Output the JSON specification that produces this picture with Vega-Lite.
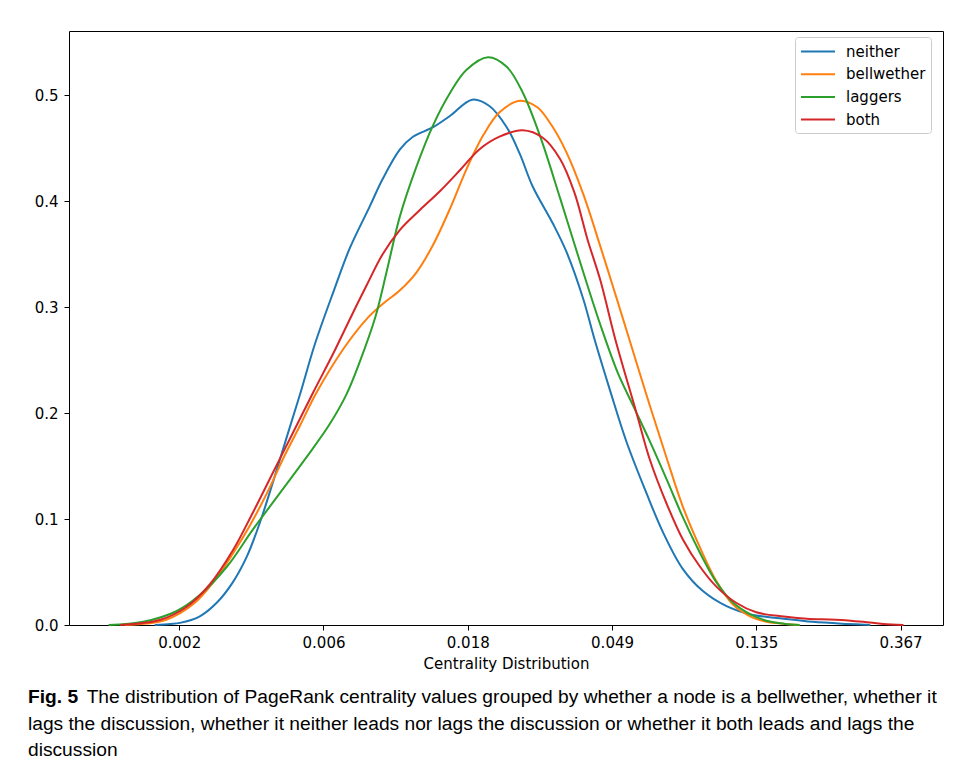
{
  "$schema": "https://vega.github.io/schema/vega-lite/v6.json",
  "width": 874,
  "height": 594,
  "autosize": "none",
  "padding": {"left": 69, "top": 31, "right": 12, "bottom": 146},
  "background": "white",
  "config": {
    "font": "DejaVu Sans",
    "view": {"stroke": "black", "strokeWidth": 1},
    "axis": {
      "grid": false,
      "domain": false,
      "tickColor": "black",
      "tickSize": 5,
      "tickWidth": 1,
      "labelColor": "black",
      "labelFont": "DejaVu Sans",
      "labelFontSize": 15,
      "labelPadding": 5,
      "titleColor": "black",
      "titleFont": "DejaVu Sans",
      "titleFontSize": 15,
      "titleFontWeight": "normal",
      "titlePadding": 6
    }
  },
  "data": {
    "values": [
      {"group": "neither", "ln_centrality": -6.17, "density": 0.000},
      {"group": "neither", "ln_centrality": -6.06, "density": 0.001},
      {"group": "neither", "ln_centrality": -5.995, "density": 0.002},
      {"group": "neither", "ln_centrality": -5.86, "density": 0.008},
      {"group": "neither", "ln_centrality": -5.74, "density": 0.021},
      {"group": "neither", "ln_centrality": -5.63, "density": 0.040},
      {"group": "neither", "ln_centrality": -5.53, "density": 0.065},
      {"group": "neither", "ln_centrality": -5.44, "density": 0.097},
      {"group": "neither", "ln_centrality": -5.35, "density": 0.135},
      {"group": "neither", "ln_centrality": -5.26, "density": 0.175},
      {"group": "neither", "ln_centrality": -5.16, "density": 0.219},
      {"group": "neither", "ln_centrality": -5.06, "density": 0.265},
      {"group": "neither", "ln_centrality": -4.93, "density": 0.315},
      {"group": "neither", "ln_centrality": -4.82, "density": 0.355},
      {"group": "neither", "ln_centrality": -4.68, "density": 0.395},
      {"group": "neither", "ln_centrality": -4.59, "density": 0.421},
      {"group": "neither", "ln_centrality": -4.47, "density": 0.449},
      {"group": "neither", "ln_centrality": -4.38, "density": 0.461},
      {"group": "neither", "ln_centrality": -4.24, "density": 0.470},
      {"group": "neither", "ln_centrality": -4.12, "density": 0.481},
      {"group": "neither", "ln_centrality": -3.97, "density": 0.496},
      {"group": "neither", "ln_centrality": -3.85, "density": 0.490},
      {"group": "neither", "ln_centrality": -3.73, "density": 0.470},
      {"group": "neither", "ln_centrality": -3.64, "density": 0.445},
      {"group": "neither", "ln_centrality": -3.55, "density": 0.414},
      {"group": "neither", "ln_centrality": -3.41, "density": 0.379},
      {"group": "neither", "ln_centrality": -3.315, "density": 0.352},
      {"group": "neither", "ln_centrality": -3.20, "density": 0.308},
      {"group": "neither", "ln_centrality": -3.12, "density": 0.269},
      {"group": "neither", "ln_centrality": -3.015, "density": 0.222},
      {"group": "neither", "ln_centrality": -2.90, "density": 0.173},
      {"group": "neither", "ln_centrality": -2.76, "density": 0.124},
      {"group": "neither", "ln_centrality": -2.645, "density": 0.087},
      {"group": "neither", "ln_centrality": -2.51, "density": 0.053},
      {"group": "neither", "ln_centrality": -2.37, "density": 0.032},
      {"group": "neither", "ln_centrality": -2.21, "density": 0.018},
      {"group": "neither", "ln_centrality": -2.04, "density": 0.010},
      {"group": "neither", "ln_centrality": -1.81, "density": 0.006},
      {"group": "neither", "ln_centrality": -1.61, "density": 0.003},
      {"group": "neither", "ln_centrality": -1.37, "density": 0.001},
      {"group": "neither", "ln_centrality": -1.21, "density": 0.000},

      {"group": "bellwether", "ln_centrality": -6.38, "density": 0.000},
      {"group": "bellwether", "ln_centrality": -6.09, "density": 0.005},
      {"group": "bellwether", "ln_centrality": -5.90, "density": 0.020},
      {"group": "bellwether", "ln_centrality": -5.76, "density": 0.041},
      {"group": "bellwether", "ln_centrality": -5.63, "density": 0.067},
      {"group": "bellwether", "ln_centrality": -5.51, "density": 0.094},
      {"group": "bellwether", "ln_centrality": -5.39, "density": 0.125},
      {"group": "bellwether", "ln_centrality": -5.28, "density": 0.157},
      {"group": "bellwether", "ln_centrality": -5.16, "density": 0.189},
      {"group": "bellwether", "ln_centrality": -5.05, "density": 0.219},
      {"group": "bellwether", "ln_centrality": -4.86, "density": 0.261},
      {"group": "bellwether", "ln_centrality": -4.70, "density": 0.289},
      {"group": "bellwether", "ln_centrality": -4.59, "density": 0.303},
      {"group": "bellwether", "ln_centrality": -4.47, "density": 0.316},
      {"group": "bellwether", "ln_centrality": -4.355, "density": 0.333},
      {"group": "bellwether", "ln_centrality": -4.24, "density": 0.359},
      {"group": "bellwether", "ln_centrality": -4.12, "density": 0.394},
      {"group": "bellwether", "ln_centrality": -4.01, "density": 0.430},
      {"group": "bellwether", "ln_centrality": -3.89, "density": 0.463},
      {"group": "bellwether", "ln_centrality": -3.78, "density": 0.484},
      {"group": "bellwether", "ln_centrality": -3.64, "density": 0.495},
      {"group": "bellwether", "ln_centrality": -3.52, "density": 0.489},
      {"group": "bellwether", "ln_centrality": -3.42, "density": 0.472},
      {"group": "bellwether", "ln_centrality": -3.315, "density": 0.446},
      {"group": "bellwether", "ln_centrality": -3.20, "density": 0.407},
      {"group": "bellwether", "ln_centrality": -3.08, "density": 0.357},
      {"group": "bellwether", "ln_centrality": -2.99, "density": 0.318},
      {"group": "bellwether", "ln_centrality": -2.89, "density": 0.274},
      {"group": "bellwether", "ln_centrality": -2.74, "density": 0.208},
      {"group": "bellwether", "ln_centrality": -2.62, "density": 0.157},
      {"group": "bellwether", "ln_centrality": -2.51, "density": 0.112},
      {"group": "bellwether", "ln_centrality": -2.39, "density": 0.073},
      {"group": "bellwether", "ln_centrality": -2.275, "density": 0.041},
      {"group": "bellwether", "ln_centrality": -2.16, "density": 0.019},
      {"group": "bellwether", "ln_centrality": -2.04, "density": 0.008},
      {"group": "bellwether", "ln_centrality": -1.93, "density": 0.003},
      {"group": "bellwether", "ln_centrality": -1.80, "density": 0.001},
      {"group": "bellwether", "ln_centrality": -1.70, "density": 0.000},

      {"group": "laggers", "ln_centrality": -6.49, "density": 0.000},
      {"group": "laggers", "ln_centrality": -6.25, "density": 0.003},
      {"group": "laggers", "ln_centrality": -6.02, "density": 0.013},
      {"group": "laggers", "ln_centrality": -5.86, "density": 0.028},
      {"group": "laggers", "ln_centrality": -5.67, "density": 0.055},
      {"group": "laggers", "ln_centrality": -5.49, "density": 0.090},
      {"group": "laggers", "ln_centrality": -5.30, "density": 0.125},
      {"group": "laggers", "ln_centrality": -5.12, "density": 0.158},
      {"group": "laggers", "ln_centrality": -4.96, "density": 0.189},
      {"group": "laggers", "ln_centrality": -4.84, "density": 0.218},
      {"group": "laggers", "ln_centrality": -4.75, "density": 0.248},
      {"group": "laggers", "ln_centrality": -4.64, "density": 0.291},
      {"group": "laggers", "ln_centrality": -4.56, "density": 0.335},
      {"group": "laggers", "ln_centrality": -4.47, "density": 0.386},
      {"group": "laggers", "ln_centrality": -4.355, "density": 0.433},
      {"group": "laggers", "ln_centrality": -4.24, "density": 0.472},
      {"group": "laggers", "ln_centrality": -4.12, "density": 0.503},
      {"group": "laggers", "ln_centrality": -4.01, "density": 0.524},
      {"group": "laggers", "ln_centrality": -3.86, "density": 0.536},
      {"group": "laggers", "ln_centrality": -3.73, "density": 0.527},
      {"group": "laggers", "ln_centrality": -3.62, "density": 0.503},
      {"group": "laggers", "ln_centrality": -3.50, "density": 0.462},
      {"group": "laggers", "ln_centrality": -3.36, "density": 0.403},
      {"group": "laggers", "ln_centrality": -3.22, "density": 0.342},
      {"group": "laggers", "ln_centrality": -3.08, "density": 0.283},
      {"group": "laggers", "ln_centrality": -2.96, "density": 0.238},
      {"group": "laggers", "ln_centrality": -2.85, "density": 0.206},
      {"group": "laggers", "ln_centrality": -2.74, "density": 0.174},
      {"group": "laggers", "ln_centrality": -2.62, "density": 0.137},
      {"group": "laggers", "ln_centrality": -2.51, "density": 0.102},
      {"group": "laggers", "ln_centrality": -2.39, "density": 0.068},
      {"group": "laggers", "ln_centrality": -2.275, "density": 0.040},
      {"group": "laggers", "ln_centrality": -2.16, "density": 0.021},
      {"group": "laggers", "ln_centrality": -2.04, "density": 0.010},
      {"group": "laggers", "ln_centrality": -1.93, "density": 0.004},
      {"group": "laggers", "ln_centrality": -1.80, "density": 0.001},
      {"group": "laggers", "ln_centrality": -1.70, "density": 0.000},

      {"group": "both", "ln_centrality": -6.41, "density": 0.000},
      {"group": "both", "ln_centrality": -6.13, "density": 0.005},
      {"group": "both", "ln_centrality": -5.95, "density": 0.017},
      {"group": "both", "ln_centrality": -5.79, "density": 0.038},
      {"group": "both", "ln_centrality": -5.63, "density": 0.070},
      {"group": "both", "ln_centrality": -5.49, "density": 0.106},
      {"group": "both", "ln_centrality": -5.35, "density": 0.144},
      {"group": "both", "ln_centrality": -5.21, "density": 0.182},
      {"group": "both", "ln_centrality": -5.07, "density": 0.220},
      {"group": "both", "ln_centrality": -4.93, "density": 0.257},
      {"group": "both", "ln_centrality": -4.82, "density": 0.288},
      {"group": "both", "ln_centrality": -4.70, "density": 0.321},
      {"group": "both", "ln_centrality": -4.59, "density": 0.350},
      {"group": "both", "ln_centrality": -4.47, "density": 0.373},
      {"group": "both", "ln_centrality": -4.33, "density": 0.392},
      {"group": "both", "ln_centrality": -4.19, "density": 0.410},
      {"group": "both", "ln_centrality": -4.05, "density": 0.430},
      {"group": "both", "ln_centrality": -3.92, "density": 0.449},
      {"group": "both", "ln_centrality": -3.78, "density": 0.461},
      {"group": "both", "ln_centrality": -3.62, "density": 0.467},
      {"group": "both", "ln_centrality": -3.48, "density": 0.460},
      {"group": "both", "ln_centrality": -3.36, "density": 0.440},
      {"group": "both", "ln_centrality": -3.26, "density": 0.408},
      {"group": "both", "ln_centrality": -3.17, "density": 0.364},
      {"group": "both", "ln_centrality": -3.08, "density": 0.325},
      {"group": "both", "ln_centrality": -2.98, "density": 0.271},
      {"group": "both", "ln_centrality": -2.83, "density": 0.200},
      {"group": "both", "ln_centrality": -2.74, "density": 0.157},
      {"group": "both", "ln_centrality": -2.62, "density": 0.114},
      {"group": "both", "ln_centrality": -2.51, "density": 0.081},
      {"group": "both", "ln_centrality": -2.39, "density": 0.055},
      {"group": "both", "ln_centrality": -2.275, "density": 0.036},
      {"group": "both", "ln_centrality": -2.14, "density": 0.021},
      {"group": "both", "ln_centrality": -2.00, "density": 0.012},
      {"group": "both", "ln_centrality": -1.81, "density": 0.008},
      {"group": "both", "ln_centrality": -1.65, "density": 0.006},
      {"group": "both", "ln_centrality": -1.45, "density": 0.005},
      {"group": "both", "ln_centrality": -1.26, "density": 0.003},
      {"group": "both", "ln_centrality": -1.12, "density": 0.001},
      {"group": "both", "ln_centrality": -0.98, "density": 0.000}
    ]
  },
  "mark": {"type": "line", "strokeWidth": 2, "interpolate": "catmull-rom"},
  "encoding": {
    "x": {
      "field": "ln_centrality",
      "type": "quantitative",
      "scale": {"domain": [-6.764, -0.706], "nice": false, "zero": false},
      "axis": {
        "title": "Centrality Distribution",
        "values": [-6, -5, -4, -3, -2, -1],
        "labelExpr": "format(floor(exp(datum.value) * 1000) / 1000, '.3f')"
      }
    },
    "y": {
      "field": "density",
      "type": "quantitative",
      "scale": {"domain": [0, 0.5608], "nice": false},
      "axis": {
        "title": null,
        "values": [0, 0.1, 0.2, 0.3, 0.4, 0.5],
        "format": ".1f",
        "labelPadding": 6
      }
    },
    "color": {
      "field": "group",
      "type": "nominal",
      "scale": {
        "domain": ["neither", "bellwether", "laggers", "both"],
        "range": ["#1f77b4", "#ff7f0e", "#2ca02c", "#d62728"]
      },
      "legend": {
        "title": null,
        "orient": "none",
        "legendX": 726,
        "legendY": 6,
        "symbolType": "M-1,0H3",
        "symbolSize": 289,
        "symbolStrokeWidth": 2,
        "labelFont": "DejaVu Sans",
        "labelFontSize": 15,
        "labelColor": "black",
        "labelOffset": 27,
        "rowPadding": 4.7,
        "padding": 5,
        "strokeColor": "#cccccc",
        "fillColor": "white",
        "cornerRadius": 3
      }
    }
  },
  "title": {
    "text": "Fig. 5",
    "subtitle": [
      "\u200b\u00a0\u00a0\u00a0\u00a0\u00a0\u00a0\u00a0\u00a0\u00a0\u00a0\u00a0The distribution of PageRank centrality values grouped by whether a node is a bellwether, whether it",
      "lags the discussion, whether it neither leads nor lags the discussion or whether it both leads and lags the",
      "discussion"
    ],
    "orient": "bottom",
    "anchor": "start",
    "frame": "group",
    "dx": -41,
    "offset": 17,
    "font": "Liberation Sans",
    "fontSize": 19.2,
    "fontWeight": "bold",
    "color": "black",
    "subtitleFont": "Liberation Sans",
    "subtitleFontSize": 19.2,
    "subtitleColor": "black",
    "subtitleLineHeight": 26.5,
    "subtitlePadding": -19.2
  }
}
